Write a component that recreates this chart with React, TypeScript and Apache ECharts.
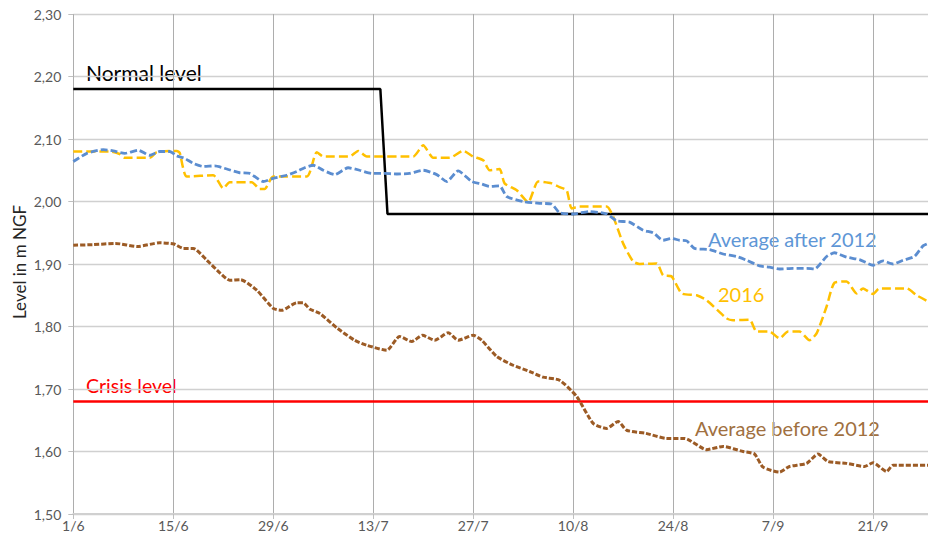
import React, { useEffect, useRef } from "react";
import * as echarts from "echarts";

// Days counted from 1 June (day 0). Values in m NGF.
const xTickLabels = ["1/6", "15/6", "29/6", "13/7", "27/7", "10/8", "24/8", "7/9", "21/9"];
const xMaxDay = 119.7;

const normalLevel: [number, number][] = [
  [0, 2.18], [43, 2.18], [44, 1.98], [119.7, 1.98],
];
const crisisLevel: [number, number][] = [
  [0, 1.68], [119.7, 1.68],
];

const averageAfter2012: [number, number][] = [
  [0, 2.064], [1.9, 2.077], [4.2, 2.083], [5.6, 2.081], [7.2, 2.077], [9.1, 2.082], [10.7, 2.074],
  [12.1, 2.08], [13.5, 2.08], [14.5, 2.073], [15.6, 2.069], [16.8, 2.061], [18.2, 2.056], [19.8, 2.057],
  [21.5, 2.052], [23.3, 2.046], [24.7, 2.045], [26.6, 2.032], [28, 2.037], [29.9, 2.042], [31.3, 2.048],
  [32.4, 2.054], [33.6, 2.058], [35, 2.05], [36.6, 2.043], [38.5, 2.054], [40.1, 2.05], [41.8, 2.045],
  [43.4, 2.045], [45.3, 2.044], [47.1, 2.045], [49, 2.05], [50.9, 2.043], [52.3, 2.032], [53.9, 2.049],
  [55.8, 2.032], [57.2, 2.028], [58.3, 2.024], [59.7, 2.025], [60.7, 2.008], [63, 2.0], [65.3, 1.997],
  [67, 1.996], [68.1, 1.982], [70, 1.98], [72.3, 1.984], [74.7, 1.98], [76.1, 1.969], [77.9, 1.967],
  [79.8, 1.954], [81.2, 1.95], [82.6, 1.938], [83.8, 1.941], [84.9, 1.938], [85.9, 1.937], [87, 1.925],
  [89.1, 1.923], [91, 1.916], [92.9, 1.912], [94.3, 1.906], [96.1, 1.897], [97.5, 1.895], [98.9, 1.892],
  [100.8, 1.893], [102.7, 1.893], [103.8, 1.892], [105.5, 1.912], [106.6, 1.918], [108.3, 1.911],
  [110.1, 1.907], [112, 1.898], [113.4, 1.905], [114.8, 1.9], [116.2, 1.906], [117.8, 1.912],
  [119, 1.929], [119.7, 1.933],
];

const year2016: [number, number][] = [
  [0, 2.08], [5.1, 2.08], [6.5, 2.076], [7.2, 2.07], [10.7, 2.07], [11.7, 2.079], [14.5, 2.081],
  [14.9, 2.078], [15.9, 2.04], [19.6, 2.042], [21, 2.021], [21.9, 2.031], [25, 2.031], [26.1, 2.02],
  [26.8, 2.02], [28, 2.04], [32.7, 2.04], [34.1, 2.079], [35, 2.072], [38.7, 2.072], [39.9, 2.081],
  [41.1, 2.072], [47.6, 2.072], [49, 2.09], [50.4, 2.07], [52.7, 2.07], [54.6, 2.081], [56, 2.072],
  [57.4, 2.066], [58.3, 2.05], [59.7, 2.052], [60.4, 2.029], [62.1, 2.018], [63.7, 1.999], [65.1, 2.032],
  [67, 2.029], [68.1, 2.023], [69.1, 2.018], [69.8, 1.989], [70.9, 1.992], [74.7, 1.992], [75.6, 1.976],
  [77, 1.933], [78.4, 1.904], [79.3, 1.9], [81.7, 1.901], [82.6, 1.882], [83.8, 1.88], [85.2, 1.853],
  [87.3, 1.85], [88.7, 1.842], [91.5, 1.813], [92.4, 1.81], [94.7, 1.811], [95.7, 1.792], [97.5, 1.792],
  [98.9, 1.781], [100.1, 1.792], [101.7, 1.792], [103.1, 1.778], [104.1, 1.789], [105.5, 1.832],
  [106.6, 1.87], [108.3, 1.872], [109.7, 1.853], [110.6, 1.861], [112, 1.852], [112.9, 1.861],
  [116.7, 1.861], [118.1, 1.85], [119.7, 1.84],
];

const averageBefore2012: [number, number][] = [
  [0, 1.93], [2.8, 1.931], [5.9, 1.933], [9, 1.928], [12.1, 1.934], [14.1, 1.932], [15.4, 1.925],
  [16.8, 1.925], [18.7, 1.906], [20.6, 1.885], [21.9, 1.874], [23.4, 1.875], [25.7, 1.858], [28, 1.829],
  [29.2, 1.826], [31.3, 1.838], [32.2, 1.838], [33.1, 1.828], [34.5, 1.821], [37, 1.797], [39.4, 1.778],
  [41.1, 1.77], [43.9, 1.762], [45.7, 1.784], [47.4, 1.776], [48.9, 1.786], [50.6, 1.778], [52.5, 1.79],
  [53.9, 1.778], [56, 1.786], [57.2, 1.778], [59.3, 1.752], [61.6, 1.738], [63.9, 1.728], [65.8, 1.719],
  [68.1, 1.714], [70.5, 1.688], [72.8, 1.645], [74.7, 1.637], [76.3, 1.648], [77.5, 1.634], [80.2, 1.629],
  [83.1, 1.621], [85.6, 1.621], [88.7, 1.603], [91, 1.608], [93.8, 1.6], [95.4, 1.596], [96.6, 1.575],
  [98.9, 1.567], [100.3, 1.576], [102.7, 1.581], [104.3, 1.596], [105.7, 1.584], [108.3, 1.581],
  [110.8, 1.576], [112, 1.582], [113.9, 1.568], [114.8, 1.578], [119.7, 1.578],
];

const FONT = "Lato, 'Open Sans', sans-serif";

export default function App() {
  const ref = useRef<HTMLDivElement | null>(null);

  useEffect(() => {
    if (!ref.current) return;
    const chart = echarts.init(ref.current, undefined, { renderer: "svg" });
    const dashedLine = (
      name: string,
      data: [number, number][],
      color: string,
      width: number,
      dash: number[]
    ) => ({
      name,
      type: "line",
      data,
      showSymbol: false,
      symbol: "none",
      smooth: 0.2,
      lineStyle: { color, width, type: dash, cap: "butt" },
      z: 3,
    });

    chart.setOption({
      animation: false,
      backgroundColor: "#ffffff",
      textStyle: { fontFamily: FONT },
      grid: {
        left: 73.3,
        right: 0,
        top: 14,
        bottom: 27,
        containLabel: false,
        outerBoundsMode: "none",
      },
      xAxis: {
        type: "value",
        min: 0,
        max: xMaxDay,
        interval: 14,
        axisLine: { show: true, lineStyle: { color: "#D0D0D0", width: 2 } },
        axisTick: { show: true, length: 5, lineStyle: { color: "#BFBFBF" } },
        axisLabel: {
          color: "#595959",
          fontSize: 14,
          fontFamily: FONT,
          margin: 4,
          formatter: (v: number) => {
            const i = Math.round(v / 14);
            return Math.abs(v - i * 14) < 1e-6 && i < xTickLabels.length ? xTickLabels[i] : "";
          },
        },
        splitLine: { show: true, lineStyle: { color: "#ADADAD", width: 1 } },
      },
      yAxis: {
        type: "value",
        min: 1.5,
        max: 2.3,
        interval: 0.1,
        axisLine: { show: false },
        axisTick: { show: true, length: 5, lineStyle: { color: "#BFBFBF" } },
        axisLabel: {
          color: "#595959",
          fontSize: 14,
          fontFamily: FONT,
          margin: 12,
          formatter: (v: number) => v.toFixed(2).replace(".", ","),
        },
        splitLine: { show: true, lineStyle: { color: "#D0D0D0", width: 1.3 } },
      },
      series: [
        {
          name: "Crisis level",
          type: "line",
          data: crisisLevel,
          showSymbol: false,
          symbol: "none",
          lineStyle: { color: "#FF0000", width: 2.5 },
          z: 2,
        },
        {
          name: "Normal level",
          type: "line",
          data: normalLevel,
          showSymbol: false,
          symbol: "none",
          lineStyle: { color: "#000000", width: 2.5 },
          z: 2,
        },
        dashedLine("Average before 2012", averageBefore2012, "#9C5B25", 3, [5, 2]),
        dashedLine("2016", year2016, "#FFC000", 2.5, [9, 4]),
        dashedLine("Average after 2012", averageAfter2012, "#5B8DD0", 2.8, [7, 3]),
      ],
      graphic: [
        {
          type: "text",
          x: 19,
          y: 262,
          rotation: Math.PI / 2,
          style: {
            text: "Level in m NGF",
            fill: "#262626",
            fontSize: 17,
            fontFamily: FONT,
            align: "center",
            verticalAlign: "middle",
          },
        },
        {
          type: "text",
          x: 86,
          y: 72,
          style: { text: "Normal level", fill: "#000000", fontSize: 21, fontFamily: FONT, verticalAlign: "middle" },
        },
        {
          type: "text",
          x: 86,
          y: 385,
          style: { text: "Crisis level", fill: "#FF0000", fontSize: 19.5, fontFamily: FONT, verticalAlign: "middle" },
        },
        {
          type: "text",
          x: 708,
          y: 239,
          style: { text: "Average after 2012", fill: "#5E96D6", fontSize: 20, fontFamily: FONT, verticalAlign: "middle" },
        },
        {
          type: "text",
          x: 718,
          y: 294,
          style: { text: "2016", fill: "#FFC000", fontSize: 20, fontFamily: FONT, verticalAlign: "middle" },
        },
        {
          type: "text",
          x: 695,
          y: 428,
          style: { text: "Average before 2012", fill: "#A0703F", fontSize: 20, fontFamily: FONT, verticalAlign: "middle" },
        },
      ],
    });

    return () => chart.dispose();
  }, []);

  return (
    <div
      ref={ref}
      style={{ position: "fixed", left: 0, top: 0, width: 928, height: 541, background: "#ffffff" }}
    />
  );
}
